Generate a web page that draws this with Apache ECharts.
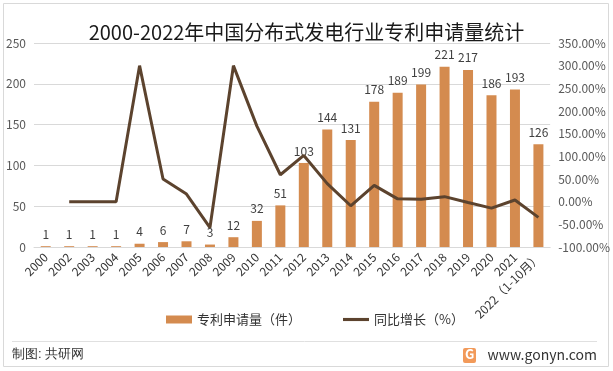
<!DOCTYPE html>
<html><head><meta charset="utf-8">
<script src="https://cdn.jsdelivr.net/npm/echarts@6/dist/echarts.min.js"></script>
<style>html,body{margin:0;padding:0;background:#fff}#c{width:613px;height:371px}</style>
</head><body><div id="c"></div>
<script>
const categories = ['2000','2002','2003','2004','2005','2006','2007','2008','2009','2010','2011','2012','2013','2014','2015','2016','2017','2018','2019','2020','2021','2022（1-10月）'];
const patents = [1,1,1,1,4,6,7,3,12,32,51,103,144,131,178,189,199,221,217,186,193,126];
const growth = [null,0,0,0,300,50,16.67,-57.14,300,166.67,59.38,101.96,39.81,-9.03,35.88,6.18,5.29,11.06,-1.81,-14.29,3.76,-34.72];
const leftTicks = {min:0,max:250,interval:50};
const rightTicks = {min:-100,max:350,interval:50};

const chart = echarts.init(document.getElementById('c'));
const font = '"Microsoft YaHei","Noto Sans CJK SC",sans-serif';
chart.setOption({
  animation:false,
  textStyle:{fontFamily:font},
  title:{text:'2000-2022年中国分布式发电行业专利申请量统计',left:'center',top:17,
    textStyle:{fontSize:20,fontWeight:'normal',color:'#1a1a1a',fontFamily:font}},
  legend:{bottom:40,left:161,itemGap:42,itemWidth:26,itemHeight:8,symbolKeepAspect:true,
    textStyle:{fontSize:13,color:'#333',fontFamily:font},
    data:[{name:'专利申请量（件）',icon:'rect'},{name:'同比增长（%）',icon:'path://M0,0H30V3.6H0Z'}]},
  grid:{left:34,right:59,top:43,bottom:124,containLabel:false},
  xAxis:{type:'category',data:categories,
    axisLine:{lineStyle:{color:'#d9d9d9'}},axisTick:{show:false},
    axisLabel:{rotate:45,fontSize:12,color:'#333',interval:0,margin:8}},
  yAxis:[
    {type:'value',min:leftTicks.min,max:leftTicks.max,interval:leftTicks.interval,
     axisLabel:{fontSize:12,color:'#595959',margin:8},
     splitLine:{lineStyle:{color:'#d9d9d9'}},axisLine:{show:false},axisTick:{show:false}},
    {type:'value',min:rightTicks.min,max:rightTicks.max,interval:rightTicks.interval,
     axisLabel:{fontSize:12,color:'#595959',margin:8,formatter:v=>v.toFixed(2)+'%'},
     splitLine:{show:false},axisLine:{show:false},axisTick:{show:false}}
  ],
  series:[
    {name:'专利申请量（件）',type:'bar',data:patents,barWidth:10,
     itemStyle:{color:'#d48b4f'},
     label:{show:true,position:'top',fontSize:12,color:'#404040',distance:6}},
    {name:'同比增长（%）',type:'line',yAxisIndex:1,data:growth,
     symbol:'none',lineStyle:{width:3,color:'#5c432e'},itemStyle:{color:'#5c432e'}}
  ],
  graphic:[
    {type:'rect',shape:{x:3.5,y:3.5,width:605,height:363},style:{fill:'none',stroke:'#d9d9d9',lineWidth:1}},
    {type:'line',shape:{x1:12,y1:341.5,x2:597,y2:341.5},style:{stroke:'#e0e0e0',lineWidth:1}},
    {type:'text',left:12,top:348,style:{text:'制图: 共研网',fontSize:13,fill:'#333',font:'13px '+font}},
    {type:'text',right:16,top:348,style:{text:'www.gonyn.com',fill:'#333',font:'14px '+font}},
    {type:'rect',shape:{x:463,y:348,width:13,height:15,r:2},style:{fill:'#f29a5a'}},
    {type:'text',left:465,top:348,style:{text:'G',fill:'#fff',font:'bold 13px '+font}}
  ]
});
</script></body></html>
